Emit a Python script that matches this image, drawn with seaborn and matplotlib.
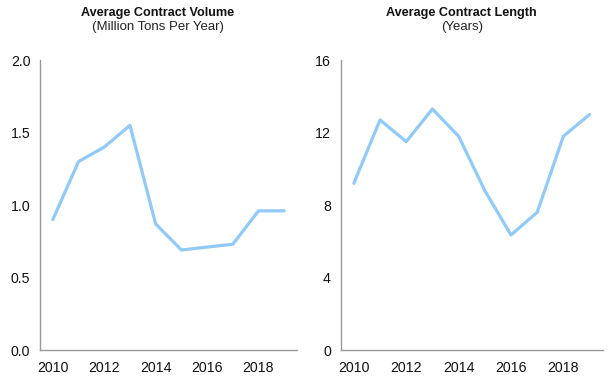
import matplotlib
matplotlib.use("Agg")
import matplotlib.pyplot as plt
import numpy as np
import pandas as pd
import seaborn as sns

years = [2010, 2011, 2012, 2013, 2014, 2015, 2016, 2017, 2018, 2019]
volume = [0.90, 1.30, 1.40, 1.55, 0.87, 0.69, 0.71, 0.73, 0.96, 0.96]
length = [9.2, 12.7, 11.5, 13.3, 11.8, 8.8, 6.35, 7.6, 11.8, 13.0]

df = pd.DataFrame({"year": years, "volume": volume, "length": length})

sns.set_theme(style="white")
plt.rcParams["font.family"] = ["Liberation Sans", "DejaVu Sans"]

line_color = "#90CAF9"
spine_color = "#999999"

fig = plt.figure(figsize=(6.15, 3.78), dpi=100)
ax1 = fig.add_axes([0.065, 0.074, 0.418, 0.767])
ax2 = fig.add_axes([0.554, 0.074, 0.426, 0.767])


def style_axis(ax, ylim, yticks, ylabels, title, subtitle, title_x):
    ax.set_xlim(2009.5, 2019.5)
    ax.set_ylim(*ylim)
    ax.set_yticks(yticks)
    ax.set_yticklabels(ylabels)
    ax.set_xticks([2010, 2012, 2014, 2016, 2018])
    ax.set_xlabel("")
    ax.set_ylabel("")
    ax.tick_params(axis="both", length=0, labelsize=10.2, colors="#111111")
    ax.tick_params(axis="y", pad=7)
    ax.tick_params(axis="x", pad=8)
    for side in ["top", "right"]:
        ax.spines[side].set_visible(False)
    for side in ["left", "bottom"]:
        ax.spines[side].set_color(spine_color)
        ax.spines[side].set_linewidth(1.0)
    ax.text(title_x, 1.163, title, transform=ax.transAxes, ha="center",
            va="center", fontsize=9.1, fontweight="bold", color="#111111")
    ax.text(title_x, 1.113, subtitle, transform=ax.transAxes, ha="center",
            va="center", fontsize=9.5, color="#222222")


sns.lineplot(data=df, x="year", y="volume", ax=ax1, color=line_color, linewidth=2.3)
style_axis(ax1, (0, 2.0), [0, 0.5, 1.0, 1.5, 2.0],
           ["0.0", "0.5", "1.0", "1.5", "2.0"],
           "Average Contract Volume", "(Million Tons Per Year)", 0.458)

sns.lineplot(data=df, x="year", y="length", ax=ax2, color=line_color, linewidth=2.3)
style_axis(ax2, (0, 16), [0, 4, 8, 12, 16],
           ["0", "4", "8", "12", "16"],
           "Average Contract Length", "(Years)", 0.462)

fig.savefig("out.png", dpi=100)
